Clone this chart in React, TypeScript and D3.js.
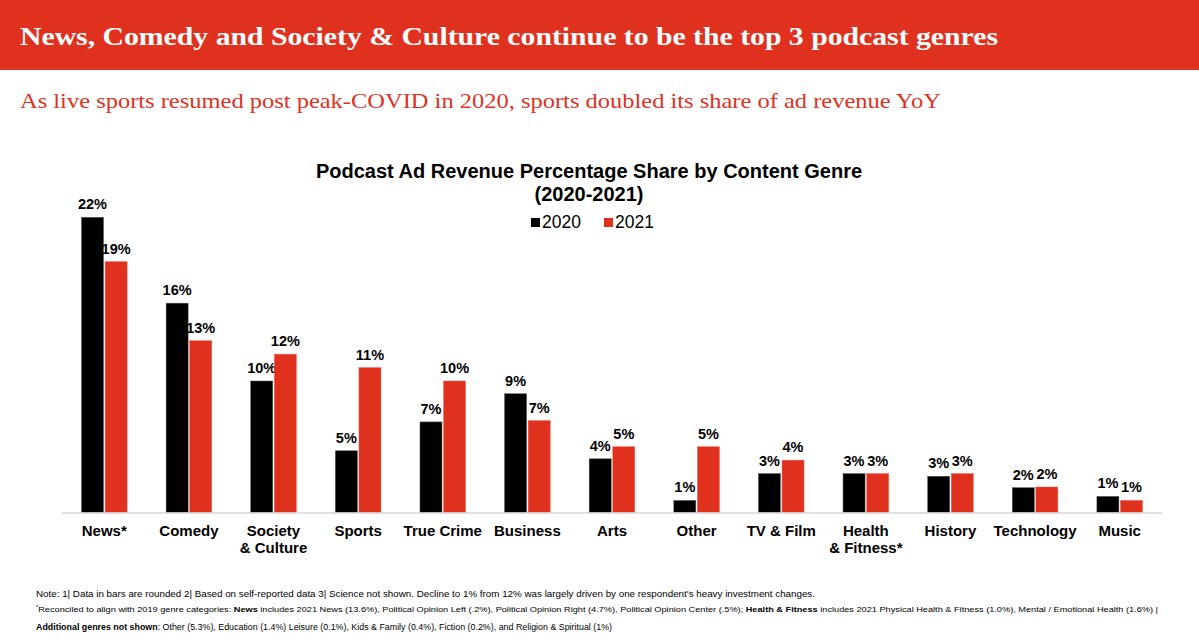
import React from 'react';
import * as d3 from 'd3';

const categories = [
  ['News*'], ['Comedy'], ['Society', '& Culture'], ['Sports'], ['True Crime'], ['Business'],
  ['Arts'], ['Other'], ['TV & Film'], ['Health', '& Fitness*'], ['History'], ['Technology'], ['Music'],
];
const years = ['2020', '2021'];
const values2020 = [22.0, 15.6, 9.8, 4.6, 6.75, 8.85, 4.0, 0.9, 2.9, 2.9, 2.7, 1.85, 1.2];
const values2021 = [18.7, 12.8, 11.8, 10.8, 9.8, 6.85, 4.9, 4.9, 3.9, 2.9, 2.9, 1.9, 0.9];
const labels2020 = ['22%', '16%', '10%', '5%', '7%', '9%', '4%', '1%', '3%', '3%', '3%', '2%', '1%'];
const labels2021 = ['19%', '13%', '12%', '11%', '10%', '7%', '5%', '5%', '4%', '3%', '3%', '2%', '1%'];

const RED = '#e0311f';
const W = 1199;
const H = 641;

export default function App() {
  const x = d3.scaleBand<number>()
    .domain(d3.range(categories.length))
    .range([62, 1162]);

  const y = d3.scaleLinear()
    .domain([0, 22])
    .range([512.5, 217.3]);

  const barW = 22;
  const series = [
    { name: years[0], values: values2020, labels: labels2020, color: '#000', dx: -22.8 },
    { name: years[1], values: values2021, labels: labels2021, color: RED, dx: 0.8 },
  ];

  const sans = 'Liberation Sans, Arial, sans-serif';
  const serif = 'Liberation Serif, Georgia, serif';

  return (
    <svg width={W} height={H} style={{ position: 'absolute', left: 0, top: 0, display: 'block' }}
      fontFamily={sans}>
      <rect x={0} y={0} width={W} height={70} fill={RED} />
      <text x={20} y={45} fill="#fff" fontFamily={serif} fontWeight="bold" fontSize={26}
        textLength={978} lengthAdjust="spacingAndGlyphs">
        News, Comedy and Society &amp; Culture continue to be the top 3 podcast genres
      </text>
      <text x={20} y={108} fill={RED} fontFamily={serif} fontSize={22}
        textLength={921} lengthAdjust="spacingAndGlyphs">
        As live sports resumed post peak-COVID in 2020, sports doubled its share of ad revenue YoY
      </text>

      {/* chart title + legend */}
      <text x={589} y={178} textAnchor="middle" fontWeight="bold" fontSize={20}>
        Podcast Ad Revenue Percentage Share by Content Genre
      </text>
      <text x={589} y={201} textAnchor="middle" fontWeight="bold" fontSize={20}>(2020-2021)</text>
      {series.map((s, i) => (
        <g key={s.name} transform={`translate(${531 + i * 73},0)`}>
          <rect x={0} y={218} width={9} height={9} fill={s.color} />
          <text x={11} y={228} fontSize={17.5}>{s.name}</text>
        </g>
      ))}

      {/* bars */}
      {series.map(s => (
        <g key={s.name}>
          {s.values.map((v, i) => {
            const cx = x(i)! + x.bandwidth() / 2 + s.dx;
            return (
              <g key={i}>
                <rect x={cx} y={y(v)} width={barW} height={y(0) - y(v)} fill={s.color}
                  stroke={s.color === '#000' ? '#555' : '#f06050'} strokeWidth={0.5} />
                <text x={cx + barW / 2} y={y(v) - 8} textAnchor="middle" fontWeight="bold" fontSize={14.5}>
                  {s.labels[i]}
                </text>
              </g>
            );
          })}
        </g>
      ))}

      <line x1={62} x2={1162} y1={y(0) + 0.5} y2={y(0) + 0.5} stroke="#d6d6d6" strokeWidth={1.5} />

      {categories.map((lines, i) => (
        <text key={i} x={x(i)! + x.bandwidth() / 2} y={536} textAnchor="middle" fontWeight="bold" fontSize={15}>
          {lines.map((l, j) => (
            <tspan key={j} x={x(i)! + x.bandwidth() / 2} dy={j === 0 ? 0 : 17}>{l}</tspan>
          ))}
        </text>
      ))}

      {/* footnotes */}
      <text x={36} y={597} fontSize={9.5} textLength={779} lengthAdjust="spacingAndGlyphs">
        Note: 1| Data in bars are rounded 2| Based on self-reported data 3| Science not shown. Decline to 1% from 12% was largely driven by one respondent's heavy investment changes.
      </text>
      <text x={36} y={612} fontSize={8} textLength={1122} lengthAdjust="spacingAndGlyphs">
        <tspan fontSize={5} dy={-3}>*</tspan>
        <tspan dy={3}>Reconciled to align with 2019 genre categories: </tspan>
        <tspan fontWeight="bold">News</tspan>
        <tspan> includes 2021 News (13.6%), Political Opinion Left (.2%), Political Opinion Right (4.7%), Political Opinion Center (.5%); </tspan>
        <tspan fontWeight="bold">Health &amp; Fitness</tspan>
        <tspan> includes 2021 Physical Health &amp; Fitness (1.0%), Mental / Emotional Health (1.6%)   |</tspan>
      </text>
      <text x={36} y={630} fontSize={8.5} textLength={576} lengthAdjust="spacingAndGlyphs">
        <tspan fontWeight="bold">Additional genres not shown</tspan>
        <tspan>: Other (5.3%), Education (1.4%) Leisure (0.1%), Kids &amp; Family (0.4%), Fiction (0.2%), and Religion &amp; Spiritual (1%)</tspan>
      </text>
    </svg>
  );
}
